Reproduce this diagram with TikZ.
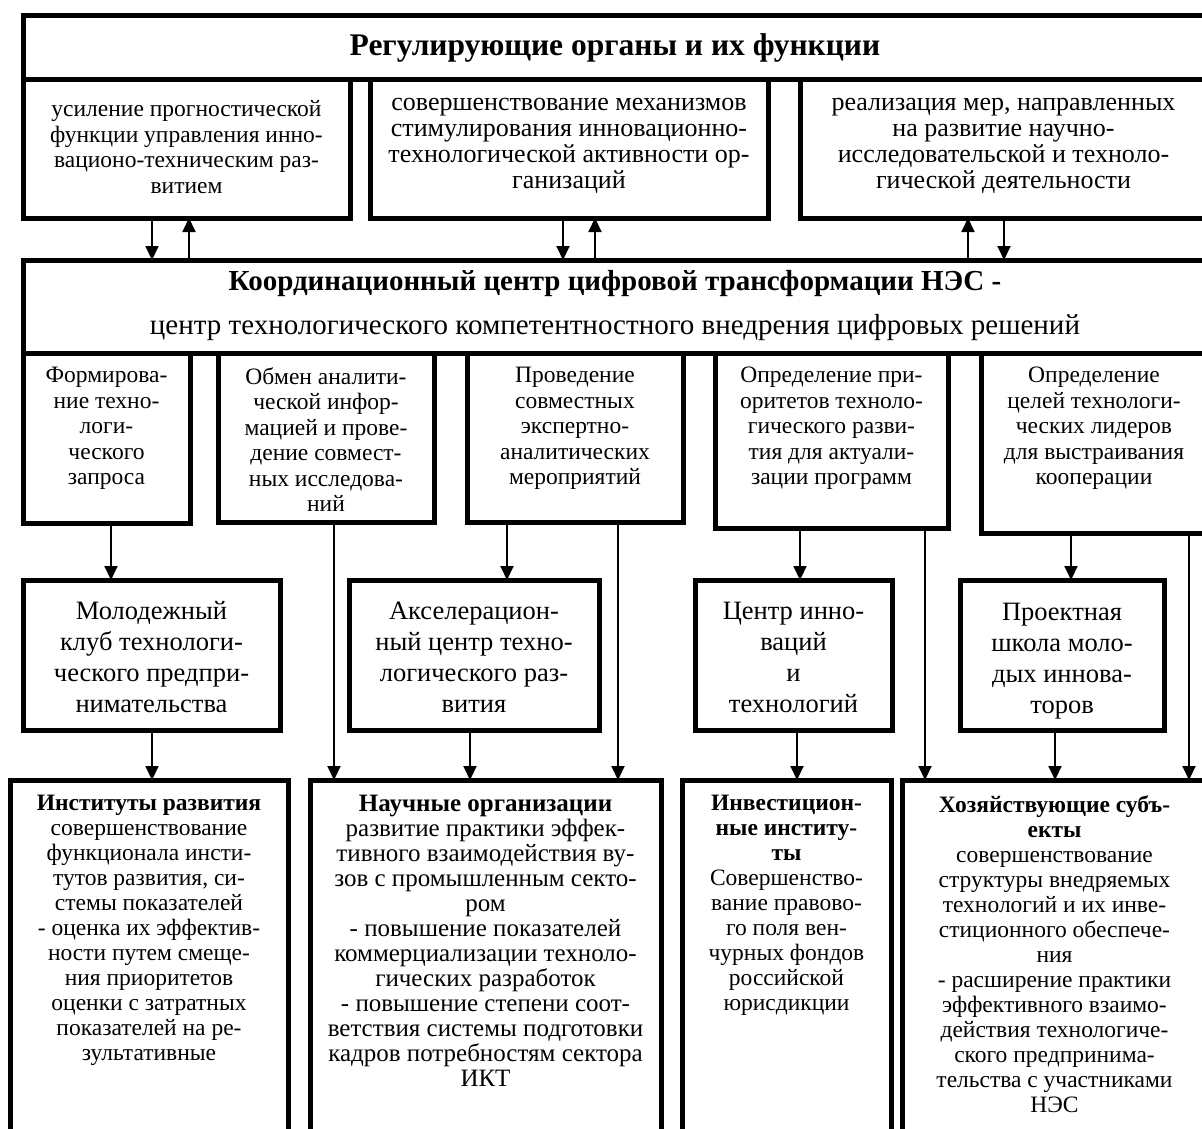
\documentclass[tikz,border=0pt]{standalone}
\usepackage{fontspec}
\setmainfont{Liberation Serif}
\usetikzlibrary{arrows.meta}
\begin{document}
\begin{tikzpicture}[x=1pt,y=-1pt,
  box/.style={draw, line width=5pt, inner sep=0pt, outer sep=0pt, anchor=north west},
  txt/.style={align=center, inner sep=0pt, font=\fontsize{23.5}{25.7}\selectfont},
  txtb/.style={align=center, inner sep=0pt, font=\fontsize{26}{26}\selectfont},
  toptxt/.style={align=center, inner sep=0pt, anchor=north, font=\fontsize{23.5}{25.5}\selectfont, execute at begin node=\strut},
  bigtxt/.style={align=center, inner sep=0pt, font=\fontsize{26.5}{31}\selectfont},
  lowtxt/.style={align=center, inner sep=0pt, anchor=north, font=\fontsize{23.5}{25}\selectfont, execute at begin node=\strut},
  lowtxtb/.style={lowtxt, font=\fontsize{25}{25}\selectfont},
  arr/.style={line width=2pt, -{Triangle[width=13pt,length=14pt]}}
]
\useasboundingbox[fill=white] (0,0) rectangle (1202,1129);

% ---- boxes ----
\node[box, minimum width=1184pt, minimum height=64pt]  (title) at (23,16) {};
\node[box, minimum width=327pt, minimum height=138pt]  (r1a) at (23,80) {};
\node[box, minimum width=398pt, minimum height=138pt]  (r1b) at (370,80) {};
\node[box, minimum width=407pt, minimum height=138pt]  (r1c) at (800,80) {};
\node[box, minimum width=1184pt, minimum height=93pt]  (coord) at (23,260) {};
\node[box, minimum width=167pt, minimum height=170pt]  (r2a) at (23,353) {};
\node[box, minimum width=216pt, minimum height=169pt]  (r2b) at (218,353) {};
\node[box, minimum width=216pt, minimum height=169pt]  (r2c) at (467,353) {};
\node[box, minimum width=233pt, minimum height=175pt]  (r2d) at (715,353) {};
\node[box, minimum width=226pt, minimum height=180pt]  (r2e) at (981,353) {};
\node[box, minimum width=257pt, minimum height=150pt]  (r3a) at (23,580) {};
\node[box, minimum width=250pt, minimum height=150pt]  (r3b) at (349,580) {};
\node[box, minimum width=197pt, minimum height=150pt]  (r3c) at (695,580) {};
\node[box, minimum width=204pt, minimum height=150pt]  (r3d) at (960,580) {};
\node[box, minimum width=278pt, minimum height=365pt]  (r4a) at (10,780) {};
\node[box, minimum width=351pt, minimum height=365pt]  (r4b) at (310,780) {};
\node[box, minimum width=209pt, minimum height=365pt]  (r4c) at (682,780) {};
\node[box, minimum width=305pt, minimum height=365pt]  (r4d) at (902,780) {};

% ---- texts ----
\node[inner sep=0pt, font=\fontsize{31.5}{36}\selectfont\bfseries] (ttitle) at (615,48) {Регулирующие органы и их функции};
\node[txt] (t1a) at ([yshift=2pt]r1a.center) {усиление прогностической\\функции управления инно-\\вационо-техническим раз-\\витием};
\node[txtb] (t1b) at ([yshift=3pt]r1b.center) {совершенствование механизмов\\стимулирования инновационно-\\технологической активности ор-\\ганизаций};
\node[txtb] (t1c) at ([yshift=3pt]r1c.center) {реализация мер, направленных\\на развитие научно-\\исследовательской и техноло-\\гической деятельности};
\node[align=center, inner sep=0pt, font=\fontsize{29}{44}\selectfont] (tcoord) at (615,306) {\textbf{Координационный центр цифровой трансформации НЭС -}\\центр технологического компетентностного внедрения цифровых решений};

\node[toptxt] (t2a) at ([yshift=-14pt]r2a.north) {Формирова-\\ние техно-\\логи-\\ческого\\запроса};
\node[toptxt] (t2b) at ([yshift=-14pt]r2b.north) {Обмен аналити-\\ческой инфор-\\мацией и прове-\\дение совмест-\\ных исследова-\\ний};
\node[toptxt] (t2c) at ([yshift=-14pt]r2c.north) {Проведение\\совместных\\экспертно-\\аналитических\\мероприятий};
\node[toptxt] (t2d) at ([yshift=-14pt]r2d.north) {Определение при-\\оритетов техноло-\\гического разви-\\тия для актуали-\\зации программ};
\node[toptxt] (t2e) at ([yshift=-14pt]r2e.north) {Определение\\целей технологи-\\ческих лидеров\\для выстраивания\\кооперации};

\node[bigtxt] (t3a) at ([yshift=-2pt]r3a.center) {Молодежный\\клуб технологи-\\ческого предпри-\\нимательства};
\node[bigtxt] (t3b) at ([yshift=-2pt]r3b.center) {Акселерацион-\\ный центр техно-\\логического раз-\\вития};
\node[bigtxt] (t3c) at ([yshift=-2pt]r3c.center) {Центр инно-\\ваций\\и\\технологий};
\node[bigtxt, anchor=north] (t3d) at ([yshift=-19pt]r3d.north) {\strut Проектная\\школа моло-\\дых иннова-\\торов};

\node[lowtxt] (t4a) at ([yshift=-15pt]r4a.north) {\textbf{Институты развития}\\совершенствование\\функционала инсти-\\тутов развития, си-\\стемы показателей\\- оценка их эффектив-\\ности путем смеще-\\ния приоритетов\\оценки с затратных\\показателей на ре-\\зультативные};
\node[lowtxtb] (t4b) at ([yshift=-15pt]r4b.north) {\textbf{Научные организации}\\развитие практики эффек-\\тивного взаимодействия ву-\\зов с промышленным секто-\\ром\\- повышение показателей\\коммерциализации техноло-\\гических разработок\\- повышение степени соот-\\ветствия системы подготовки\\кадров потребностям сектора\\ИКТ};
\node[lowtxt] (t4c) at ([yshift=-15pt]r4c.north) {\textbf{Инвестицион-}\\\textbf{ные институ-}\\\textbf{ты}\\Совершенство-\\вание правово-\\го поля вен-\\чурных фондов\\российской\\юрисдикции};
\node[lowtxt] (t4d) at ([yshift=-15pt]r4d.north) {\textbf{Хозяйствующие субъ-}\\\textbf{екты}\\совершенствование\\структуры внедряемых\\технологий и их инве-\\стиционного обеспече-\\ния\\- расширение практики\\эффективного взаимо-\\действия технологиче-\\ского предпринима-\\тельства с участниками\\НЭС};

% ---- connectors: top row <-> coordination centre ----
\draw[arr] (r1a.south -| 152,0) -- (coord.north -| 152,0);
\draw[arr] (coord.north -| 189,0) -- (r1a.south -| 189,0);
\draw[arr] (r1b.south -| 563,0) -- (coord.north -| 563,0);
\draw[arr] (coord.north -| 595,0) -- (r1b.south -| 595,0);
\draw[arr] (coord.north -| 968,0) -- (r1c.south -| 968,0);
\draw[arr] (r1c.south -| 1004,0) -- (coord.north -| 1004,0);

% ---- row 2 -> row 3 ----
\draw[arr] (r2a.south -| 111,0) -- (r3a.north -| 111,0);
\draw[arr] (r2c.south -| 507,0) -- (r3b.north -| 507,0);
\draw[arr] (r2d.south -| 800,0) -- (r3c.north -| 800,0);
\draw[arr] (r2e.south -| 1071,0) -- (r3d.north -| 1071,0);

% ---- row 2 -> row 4 (bypassing row 3) ----
\draw[arr] (r2b.south -| 334,0) -- (r4b.north -| 334,0);
\draw[arr] (r2c.south -| 618,0) -- (r4b.north -| 618,0);
\draw[arr] (r2d.south -| 925,0) -- (r4d.north -| 925,0);
\draw[arr] (r2e.south -| 1189,0) -- (r4d.north -| 1189,0);

% ---- row 3 -> row 4 ----
\draw[arr] (r3a.south -| 152,0) -- (r4a.north -| 152,0);
\draw[arr] (r3b.south -| 470,0) -- (r4b.north -| 470,0);
\draw[arr] (r3c.south -| 797,0) -- (r4c.north -| 797,0);
\draw[arr] (r3d.south -| 1055,0) -- (r4d.north -| 1055,0);
\end{tikzpicture}
\end{document}
